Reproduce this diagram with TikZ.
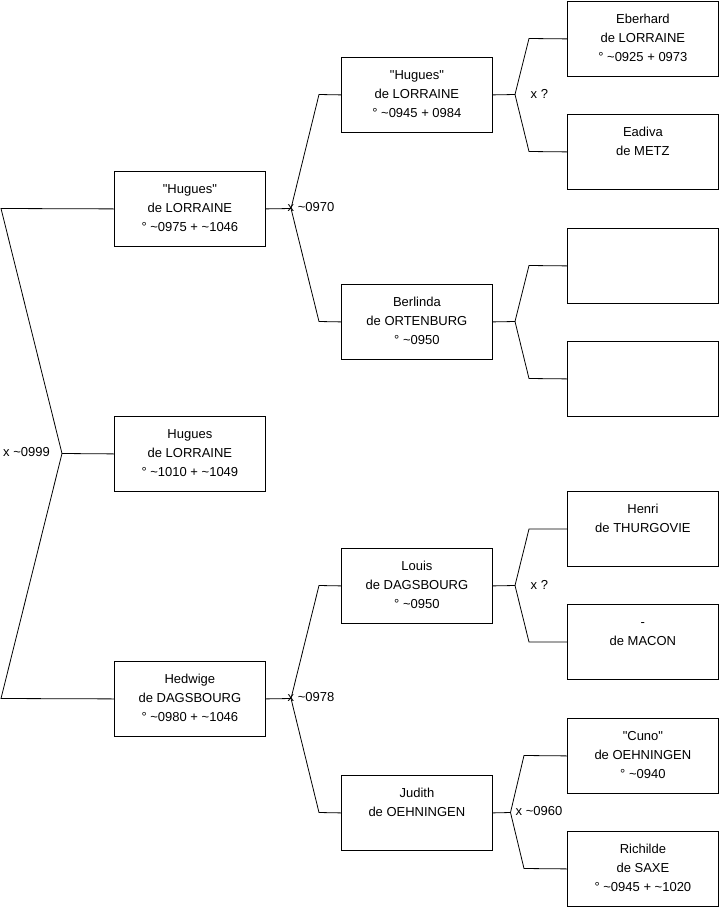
\documentclass[tikz,border=0pt]{standalone}
\usepackage{fontspec}
\setmainfont{Liberation Sans}
\newcommand\tld{\textasciitilde}
\newcommand\qq{\textquotedbl}
\begin{document}
\begin{tikzpicture}[x=1pt,y=-1pt,
  person/.style={draw, line width=0.8pt, minimum width=151pt, minimum height=75pt, inner sep=0pt, anchor=north west},
  ptext/.style={anchor=north, align=center, inner sep=0pt, font=\fontsize{13}{19}\selectfont},
  conn/.style={line width=0.8pt},
  mar/.style={anchor=west, inner sep=0pt, font=\fontsize{13}{19}\selectfont}]
\useasboundingbox (0,0) rectangle (719,908);
\newcommand\pers[4]{\node[person] (#1) at (#2,#3) {};
  \node[ptext] at ([yshift=-8.7pt]#1.north) {\strut #4};}
% generation 1
\pers{hug}{114}{416}{Hugues\\de LORRAINE\\° \tld1010 + \tld1049}
% generation 2
\pers{fa}{114}{171}{\qq Hugues\qq\\de LORRAINE\\° \tld0975 + \tld1046}
\pers{mo}{114}{661}{Hedwige\\de DAGSBOURG\\° \tld0980 + \tld1046}
% generation 3
\pers{ff}{341}{57}{\qq Hugues\qq\\de LORRAINE\\° \tld0945 + 0984}
\pers{fm}{341}{284}{Berlinda\\de ORTENBURG\\° \tld0950}
\pers{mf}{341}{548}{Louis\\de DAGSBOURG\\° \tld0950}
\pers{mm}{341}{775}{Judith\\de OEHNINGEN}
% generation 4
\pers{fff}{567}{1}{Eberhard\\de LORRAINE\\° \tld0925 + 0973}
\pers{ffm}{567}{114}{Eadiva\\de METZ}
\node[person] (fmf) at (567,228) {};
\node[person] (fmm) at (567,341) {};
\pers{mff}{567}{491}{Henri\\de THURGOVIE}
\pers{mfm}{567}{604}{-\\de MACON}
\pers{mmf}{567}{718}{\qq Cuno\qq\\de OEHNINGEN\\° \tld0940}
\pers{mmm}{567}{831}{Richilde\\de SAXE\\° \tld0945 + \tld1020}
% fork points
\coordinate (k0) at (62,453.5);
\coordinate (k0a) at (1,208.5);
\coordinate (k0b) at (1,698.5);
\coordinate (k1) at (291,208.5);
\coordinate (k1a) at (319,94.5);
\coordinate (k1b) at (319,321.5);
\coordinate (k2) at (291,698.5);
\coordinate (k2a) at (319,585.5);
\coordinate (k2b) at (319,812.5);
\coordinate (k3) at (515,94.5);
\coordinate (k3a) at (529,38.5);
\coordinate (k3b) at (529,151.5);
\coordinate (k4) at (515,321.5);
\coordinate (k4a) at (529,265.5);
\coordinate (k4b) at (529,378.5);
\coordinate (k5) at (515,585.5);
\coordinate (k5a) at (529,529);
\coordinate (k5b) at (529,642);
\coordinate (k6) at (510.5,812.5);
\coordinate (k6a) at (524,755.5);
\coordinate (k6b) at (524,868.5);
% connectors
\draw[conn] (hug.west) -- (k0) -- (k0a) -- (fa.west);
\draw[conn] (k0) -- (k0b) -- (mo.west);
\draw[conn] (fa.east) -- (k1) -- (k1a) -- (ff.west);
\draw[conn] (k1) -- (k1b) -- (fm.west);
\draw[conn] (mo.east) -- (k2) -- (k2a) -- (mf.west);
\draw[conn] (k2) -- (k2b) -- (mm.west);
\draw[conn] (ff.east) -- (k3) -- (k3a) -- (fff.west);
\draw[conn] (k3) -- (k3b) -- (ffm.west);
\draw[conn] (fm.east) -- (k4) -- (k4a) -- (fmf.west);
\draw[conn] (k4) -- (k4b) -- (fmm.west);
\draw[conn] (mf.east) -- (k5) -- (k5a) -- (mff.west);
\draw[conn] (k5) -- (k5b) -- (mfm.west);
\draw[conn] (mm.east) -- (k6) -- (k6a) -- (mmf.west);
\draw[conn] (k6) -- (k6b) -- (mmm.west);
% marriage labels
\node[mar] (m0) at (3,452.5) {x \tld0999};
\node[mar] (m1) at (287.5,207.5) {x \tld0970};
\node[mar] (m2) at (287.5,697.5) {x \tld0978};
\node[mar] (m3) at (530.5,93.5) {x ?};
\node[mar] (m5) at (530.5,584.5) {x ?};
\node[mar] (m6) at (515.5,811.5) {x \tld0960};
\end{tikzpicture}
\end{document}
